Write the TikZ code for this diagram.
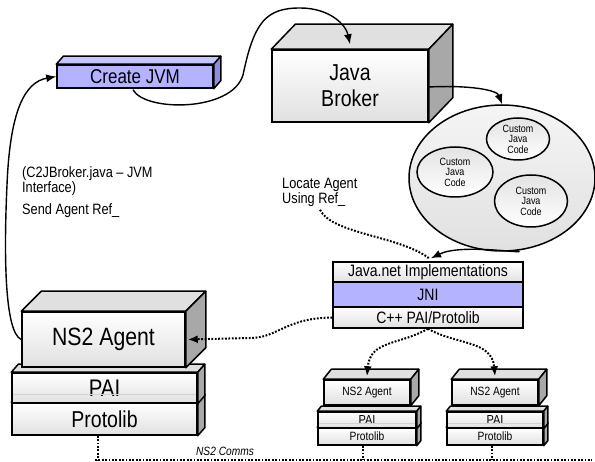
\documentclass[tikz,border=0pt]{standalone}
\usepackage{fontspec}
\setmainfont{Liberation Sans}[FakeStretch=0.85]
\usetikzlibrary{calc,arrows.meta,shapes.geometric}
\definecolor{lav}{HTML}{B3B3FF}
\definecolor{lavtop}{HTML}{C6C6FF}
\definecolor{lavside}{HTML}{8E8EE0}
\definecolor{gtop}{HTML}{E0E0E0}
\definecolor{gside}{HTML}{A8A8A8}
\tikzset{
  face/.style={draw=black, line width=1.5pt, rectangle, inner sep=0pt, top color=white, bottom color=gray!24},
  lavface/.style={draw=black, line width=1.5pt, rectangle, inner sep=0pt, fill=lav},
  arr/.style={-{Latex[length=10pt,width=8pt]}, line width=1.4pt},
  dots/.style={line width=2pt, dash pattern=on 1.8pt off 1.6pt},
  dotarr/.style={dots, -{Latex[length=10pt,width=8pt]}},
  note/.style={inner sep=0pt, align=left, font=\fontsize{15}{15}\selectfont},
  blob/.style={ellipse, draw=black, line width=1.5pt, inner sep=0pt, top color=gray!8, bottom color=gray!24},
  small/.style={ellipse, draw=black, line width=1.5pt, inner sep=0pt, top color=gray!22, bottom color=white, align=center, font=\fontsize{10.5}{10.5}\selectfont}
}
\newcommand\boxdepth[5]{%
  \filldraw[line width=1.5pt, line join=round, fill=#4] (#1.north west) -- ++(#2,-#3) -- ($(#1.north east)+(#2,-#3)$) -- (#1.north east) -- cycle;
  \filldraw[line width=1.5pt, line join=round, fill=#5] (#1.north east) -- ++(#2,-#3) -- ($(#1.south east)+(#2,-#3)$) -- (#1.south east) -- cycle;}
\begin{document}
\begin{tikzpicture}[x=1pt,y=-1pt]
\useasboundingbox (0,0) rectangle (595,462);

% Create JVM
\node[lavface, minimum width=156, minimum height=23, font=\fontsize{20}{20}\selectfont] (jvm) at (135,76.5) {Create JVM};
\boxdepth{jvm}{7}{8}{lavtop}{lavside}

% Java Broker
\node[face, minimum width=156, minimum height=72, align=center, font=\fontsize{23}{26}\selectfont] (broker) at (350,86) {Java\\Broker};
\boxdepth{broker}{24}{25}{gtop}{gside}

% pool of custom java code
\node[blob, minimum width=186, minimum height=146] (pool) at (502,178) {};
\node[small, minimum width=63, minimum height=42] (c1) at (518,139) {Custom\\Java\\Code};
\node[small, minimum width=76, minimum height=50] (c2) at (455,172) {Custom\\Java\\Code};
\node[small, minimum width=73, minimum height=52] (c3) at (531,201) {Custom\\Java\\Code};

% Java.net stack
\node[face, minimum width=190, minimum height=20, font=\fontsize{16.5}{16.5}\selectfont] (jnet) at (428,272) {Java.net Implementations};
\node[lavface, minimum width=190, minimum height=25, font=\fontsize{16.5}{16.5}\selectfont] (jni) at (428,294.5) {JNI};
\node[face, minimum width=190, minimum height=21, font=\fontsize{16.5}{16.5}\selectfont] (cpp) at (428,317.5) {C++ PAI/Protolib};

% big agent stack
\node[face, minimum width=185, minimum height=32, font=\fontsize{23}{23}\selectfont] (proto) at (104.5,419) {Protolib};
\boxdepth{proto}{7}{8}{gtop}{gside}
\node[face, minimum width=185, minimum height=30, font=\fontsize{24}{24}\selectfont] (pai) at (104.5,388) {PAI};
\draw[gray!35, line width=0.8pt] ($(pai.south west)+(1.5,-9)$) -- ($(pai.south east)+(-1.5,-9)$);
\boxdepth{pai}{7}{8}{gtop}{gside}
\node[face, minimum width=163, minimum height=55, font=\fontsize{25}{25}\selectfont] (agent) at (103.5,339.5) {NS2 Agent};
\boxdepth{agent}{20}{20}{gtop}{gside}

% small agent stacks
\node[face, minimum width=98, minimum height=17, font=\fontsize{12}{12}\selectfont] (protoA) at (367,436.5) {Protolib};
\boxdepth{protoA}{4}{5}{gtop}{gside}
\node[face, minimum width=98, minimum height=16, font=\fontsize{13}{13}\selectfont] (paiA) at (367,420) {PAI};
\draw[gray!35, line width=0.8pt] ($(paiA.south west)+(1.5,-5)$) -- ($(paiA.south east)+(-1.5,-5)$);
\boxdepth{paiA}{4}{5}{gtop}{gside}
\node[face, minimum width=86, minimum height=25, font=\fontsize{12}{12}\selectfont] (agentA) at (367,392.5) {NS2 Agent};
\boxdepth{agentA}{8}{10}{gtop}{gside}

\node[face, minimum width=96, minimum height=17, font=\fontsize{12}{12}\selectfont] (protoB) at (495,436.5) {Protolib};
\boxdepth{protoB}{4}{5}{gtop}{gside}
\node[face, minimum width=96, minimum height=16, font=\fontsize{13}{13}\selectfont] (paiB) at (495,420) {PAI};
\draw[gray!35, line width=0.8pt] ($(paiB.south west)+(1.5,-5)$) -- ($(paiB.south east)+(-1.5,-5)$);
\boxdepth{paiB}{4}{5}{gtop}{gside}
\node[face, minimum width=86, minimum height=25, font=\fontsize{12}{12}\selectfont] (agentB) at (495,392.5) {NS2 Agent};
\boxdepth{agentB}{8}{10}{gtop}{gside}

% annotations
\node[note, anchor=north west] (iface) at (22,166) {(C2JBroker.java -- JVM\\Interface)};
\node[note, anchor=north west] (send) at (22,203) {Send Agent Ref\_};
\node[note, anchor=north west] (locate) at (282,178) {Locate Agent\\Using Ref\_};
\node[inner sep=0pt, font=\fontsize{12}{12}\selectfont\itshape] (comms) at (225,451) {NS2 Comms};

% comms line
\coordinate (lineL) at (95,460);
\coordinate (lineR) at (592,460);
\draw[dots] (lineL) -- (lineR);
\draw[dots] (proto.south -| 98,0) -- (98,460);
\draw[dots] (protoA.south -| 363,0) -- (363,460);
\draw[dots] (protoB.south -| 492,0) -- (492,460);

% connectors
\draw[arr] ($(jvm.south)+(-2,1)$) .. controls (145,112) and (232,112) .. (243,75)
  .. controls (254,22) and (266,8) .. (300,8) .. controls (330,8) and (346,25) .. ($(broker.north)+(0,-5)$);
\draw[arr] (agent.west) .. controls (4,332) and (4,250) .. (7,185) .. controls (10,110) and (25,82) .. (jvm.west);
\draw[arr] ($(broker.east)+(0,1)$) .. controls (470,85) and (497,90) .. (pool.north);
\draw[arr] (pool.-78) .. controls (530,255) and (462,243) .. ($(jnet.north)+(3,-3)$);
\draw[dots] ($(locate.south west)+(38,3)$) .. controls (332,234) and (400,236) .. ($(jnet.north)+(1,-3)$);
\draw[dotarr] (cpp.west) .. controls (285,318) and (278,338) .. (250,338) -- ($(agent.east)+(2,0)$);
\draw[dotarr] (cpp.south) .. controls (400,345) and (370,340) .. ($(agentA.north)+(0,-3)$);
\draw[dotarr] (cpp.south) .. controls (456,345) and (492,340) .. ($(agentB.north)+(0,-3)$);
\end{tikzpicture}
\end{document}
